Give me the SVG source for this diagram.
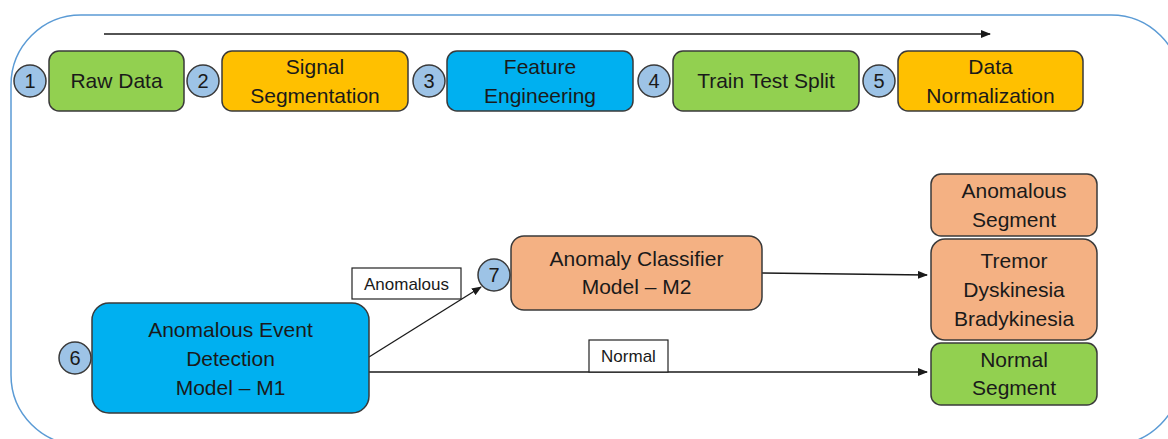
<svg xmlns="http://www.w3.org/2000/svg" width="1168" height="439" viewBox="0 0 1168 439">
<style>
text{font-family:"Liberation Sans",Arial,sans-serif;font-size:21px;fill:#1a1a1a;text-anchor:middle}
.box{stroke:#3a3a3a;stroke-width:1.5}
.green{fill:#92D050}.orange{fill:#FFC000}.blue{fill:#00B0F0}.salmon{fill:#F4B183}
.num{fill:#9DC3E6;stroke:#3a3a3a;stroke-width:1.5}
.numt{font-size:20px}
.lbl{fill:#fff;stroke:#222;stroke-width:1.2}
.lblt{font-size:17px}
.conn{stroke:#1a1a1a;stroke-width:1.3;fill:none;marker-end:url(#ah)}
</style>
<defs>
<marker id="ah" markerWidth="10" markerHeight="8" refX="9" refY="4" orient="auto" markerUnits="userSpaceOnUse">
<path d="M0,0 L10,4 L0,8 Z" fill="#1a1a1a"/>
</marker>
</defs>
<rect width="1168" height="439" fill="#fff"/>
<rect id="frame" x="11" y="15" width="1170" height="430" rx="70" fill="none" stroke="#5B9BD5" stroke-width="1.5"/>
<g id="connectors">
<line class="conn" x1="104" y1="34" x2="990" y2="34"/>
<line class="conn" x1="369" y1="357" x2="481" y2="287"/>
<line class="conn" x1="762" y1="273" x2="927" y2="275"/>
<line class="conn" x1="369" y1="372" x2="927" y2="372"/>
</g>
<g id="n1"><circle class="num" cx="30" cy="81" r="16"/><text class="numt" x="30" y="88">1</text>
<rect class="box green" x="49" y="51" width="135" height="60" rx="10"/><text x="116.5" y="88">Raw Data</text></g>
<g id="n2"><circle class="num" cx="203" cy="81" r="16"/><text class="numt" x="203" y="88">2</text>
<rect class="box orange" x="222" y="51" width="186" height="60" rx="10"/><text x="315" y="74">Signal</text><text x="315" y="103">Segmentation</text></g>
<g id="n3"><circle class="num" cx="429" cy="81" r="16"/><text class="numt" x="429" y="88">3</text>
<rect class="box blue" x="447" y="51" width="186" height="60" rx="10"/><text x="540" y="74">Feature</text><text x="540" y="103">Engineering</text></g>
<g id="n4"><circle class="num" cx="654" cy="81" r="16"/><text class="numt" x="654" y="88">4</text>
<rect class="box green" x="673" y="51" width="186" height="60" rx="10"/><text x="766" y="88">Train Test Split</text></g>
<g id="n5"><circle class="num" cx="879" cy="81" r="16"/><text class="numt" x="879" y="88">5</text>
<rect class="box orange" x="898" y="51" width="185" height="60" rx="10"/><text x="990.5" y="74">Data</text><text x="990.5" y="103">Normalization</text></g>
<g id="n6"><circle class="num" cx="75" cy="358" r="16"/><text class="numt" x="75" y="365">6</text>
<rect class="box blue" x="92" y="303" width="277" height="110" rx="17"/><text x="230.5" y="337">Anomalous Event</text><text x="230.5" y="366">Detection</text><text x="230.5" y="395">Model – M1</text></g>
<g id="n7"><circle class="num" cx="494" cy="275" r="16"/><text class="numt" x="494" y="282">7</text>
<rect class="box salmon" x="511" y="236" width="251" height="74" rx="13"/><text x="636.5" y="266">Anomaly Classifier</text><text x="636.5" y="294">Model – M2</text></g>
<g id="lblAnomalous"><rect class="lbl" x="352" y="268" width="109" height="31"/><text class="lblt" x="406.5" y="290">Anomalous</text></g>
<g id="lblNormal"><rect class="lbl" x="589" y="340" width="79" height="32"/><text class="lblt" x="628.5" y="362">Normal</text></g>
<g id="anomSeg"><rect class="box salmon" x="931" y="174" width="166" height="62" rx="10"/><text x="1014" y="198">Anomalous</text><text x="1014" y="227">Segment</text></g>
<g id="classes"><rect class="box salmon" x="931" y="239" width="166" height="101" rx="14"/><text x="1014" y="268">Tremor</text><text x="1014" y="297">Dyskinesia</text><text x="1014" y="326">Bradykinesia</text></g>
<g id="normSeg"><rect class="box green" x="931" y="343" width="166" height="62" rx="10"/><text x="1014" y="367">Normal</text><text x="1014" y="395">Segment</text></g>
</svg>
